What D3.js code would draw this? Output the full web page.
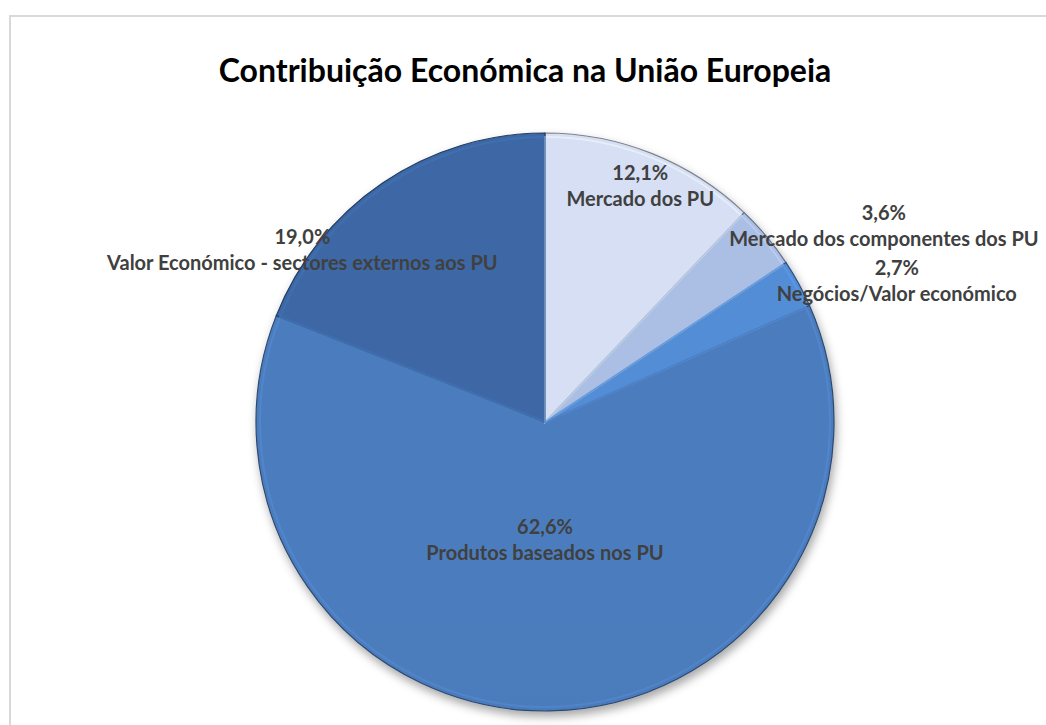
<!DOCTYPE html>
<html>
<head>
<meta charset="utf-8">
<script src="https://cdn.jsdelivr.net/npm/d3@7"></script>
<style>
	body { margin: 0; background: #fff; }
	svg { display: block; }
	.title { font-family: Lato, "Open Sans", sans-serif; font-weight: bold; fill: #000; }
	.lbl { font-family: Lato, "Open Sans", sans-serif; font-weight: bold; fill: #404040; }
</style>
</head>
<body>
<svg id="chart" width="1046" height="725"></svg>
<script>
// chart data
const categories = ["Mercado dos PU", "Mercado dos componentes dos PU", "Negócios/Valor económico", "Produtos baseados nos PU", "Valor Económico - sectores externos aos PU"];
const shares = [12.1, 3.6, 2.7, 62.6, 19.0];
const pctLabels = ["12,1%", "3,6%", "2,7%", "62,6%", "19,0%"];
const sliceColors = ["#d0d9ec", "#a6b9de", "#5189d0", "#4a79b9", "#3a64a0"];

// label anchor: angle from top (deg) and distance as fraction of radius
const labelAnchor = [[22, 0.88], [60, 1.354], [68.2, 1.311], [180, 0.41], [305.4, 1.03]];

const width = 1046, height = 725;
const cx = 545, cy = 422, radius = 289;

const svg = d3.select("#chart");

// frame
svg.append("rect")
	.attr("x", 10).attr("y", 16)
	.attr("width", 1100).attr("height", 800)
	.attr("fill", "#fff")
	.attr("stroke", "#d9d9d9")
	.attr("stroke-width", 2);

svg.append("text")
	.attr("class", "title")
	.attr("x", 525).attr("y", 82)
	.attr("text-anchor", "middle")
	.style("font-size", "32px")
	.text("Contribuição Económica na União Europeia");

const defs = svg.append("defs");

const shadow = defs.append("filter").attr("id", "shadow")
	.attr("x", "-10%").attr("y", "-10%").attr("width", "120%").attr("height", "125%");
shadow.append("feDropShadow")
	.attr("dx", 2).attr("dy", 5)
	.attr("stdDeviation", 5)
	.attr("flood-color", "#000")
	.attr("flood-opacity", 0.35);

// one soft gradient per slice, lighter at top
sliceColors.forEach((c, i) => {
	let g = defs.append("linearGradient")
		.attr("id", "grad" + i)
		.attr("gradientUnits", "userSpaceOnUse")
		.attr("x1", 0).attr("y1", cy - radius)
		.attr("x2", 0).attr("y2", cy + radius);
	g.append("stop").attr("offset", "0%").attr("stop-color", d3.color(c).brighter(0.08));
	g.append("stop").attr("offset", "100%").attr("stop-color", d3.color(c).darker(0.12));
});

const pie = d3.pie().sort(null).value(d => d);
const arcs = pie(shares);

const arc = d3.arc().innerRadius(0).outerRadius(radius);
const bevel = d3.arc().innerRadius(0).outerRadius(radius - 4);

const g = svg.append("g").attr("transform", `translate(${cx},${cy})`);

const pieGroup = g.append("g").attr("filter", "url(#shadow)");

pieGroup.selectAll("path.slice")
	.data(arcs)
	.join("path")
	.attr("class", "slice")
	.attr("d", arc)
	.attr("fill", (d, i) => `url(#grad${i})`)
	.attr("stroke", (d, i) => d3.color(sliceColors[i]).darker(1.4))
	.attr("stroke-width", 1.2);

// inner highlight to mimic the bevel
g.selectAll("path.bevel")
	.data(arcs)
	.join("path")
	.attr("class", "bevel")
	.attr("d", bevel)
	.attr("fill", "none")
	.attr("stroke", (d, i) => d3.color(sliceColors[i]).brighter(0.5))
	.attr("stroke-opacity", 0.45)
	.attr("stroke-width", 2);

// labels
const labels = g.selectAll("text.lbl")
	.data(arcs)
	.join("text")
	.attr("class", "lbl")
	.attr("text-anchor", "middle")
	.style("font-size", "20px")
	.attr("transform", (d, i) => {
		const a = labelAnchor[i][0] * Math.PI / 180;
		const r = labelAnchor[i][1] * radius;
		return `translate(${r * Math.sin(a)},${-r * Math.cos(a)})`;
	});

labels.append("tspan")
	.attr("x", 0).attr("dy", "-0.3em")
	.text((d, i) => pctLabels[i]);
labels.append("tspan")
	.attr("x", 0).attr("dy", "1.3em")
	.text((d, i) => categories[i]);
</script>
</body>
</html>
